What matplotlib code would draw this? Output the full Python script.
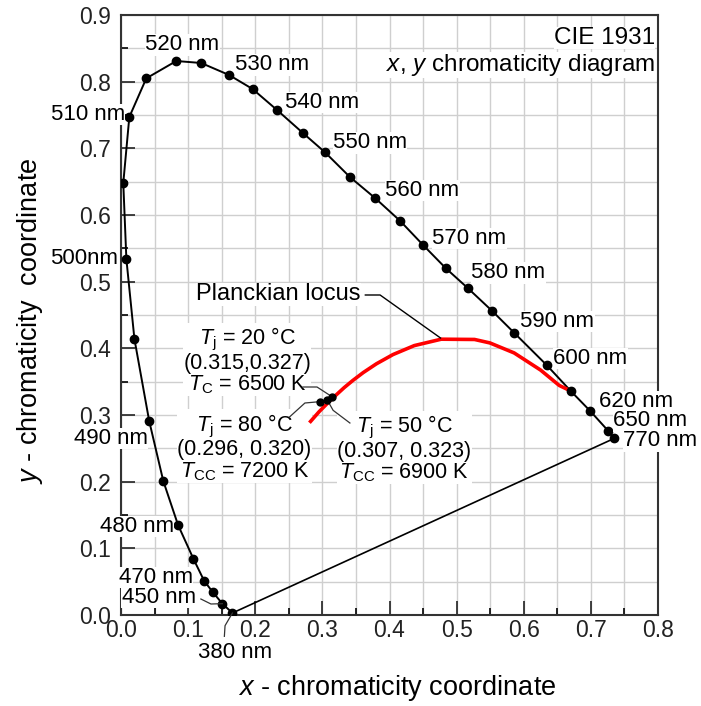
import matplotlib.pyplot as plt
import numpy as np
from matplotlib.ticker import MultipleLocator, FormatStrFormatter

plt.rcParams['font.family'] = 'Liberation Sans'
plt.rcParams['mathtext.fontset'] = 'custom'
plt.rcParams['mathtext.rm'] = 'Liberation Sans'
plt.rcParams['mathtext.it'] = 'Liberation Sans:italic'

# spectral locus, dots
wl = [380, 450, 460, 470, 475, 480, 485, 490, 495, 500, 505, 510, 515, 520,
      525, 530, 535, 540, 545, 550, 555, 560, 565, 570, 575, 580, 585, 590,
      600, 610, 620, 650, 770]
loc_x = [0.166, 0.151, 0.137, 0.124, 0.108, 0.085, 0.063, 0.042, 0.020, 0.008,
         0.0034, 0.0124, 0.0377, 0.0824, 0.1195, 0.161, 0.196, 0.233, 0.271,
         0.304, 0.341, 0.379, 0.416, 0.450, 0.484, 0.517, 0.553, 0.586,
         0.634, 0.670, 0.699, 0.726, 0.735]
loc_y = [0.003, 0.017, 0.034, 0.051, 0.084, 0.135, 0.201, 0.291, 0.414, 0.534,
         0.648, 0.747, 0.805, 0.831, 0.828, 0.810, 0.789, 0.757, 0.723,
         0.694, 0.657, 0.625, 0.591, 0.555, 0.520, 0.490, 0.456, 0.423,
         0.375, 0.336, 0.306, 0.276, 0.265]

# Planckian locus
pl_x = [0.2807, 0.2950, 0.3135, 0.3324, 0.3451, 0.3608, 0.3805, 0.4053, 0.4369,
        0.4770, 0.5267, 0.5496, 0.5857, 0.6251, 0.6528, 0.668]
pl_y = [0.2884, 0.3048, 0.3236, 0.3410, 0.3516, 0.3636, 0.3768, 0.3907, 0.4041,
        0.4137, 0.4133, 0.4081, 0.3931, 0.3674, 0.3444, 0.337]

# LED measurements
led_x = [0.315, 0.307, 0.296]
led_y = [0.327, 0.323, 0.320]
led_tj = [20, 50, 80]
led_tc = [6500, 6900, 7200]

x_ticks = [0.0, 0.1, 0.2, 0.3, 0.4, 0.5, 0.6, 0.7, 0.8]
y_ticks = [0.0, 0.1, 0.2, 0.3, 0.4, 0.5, 0.6, 0.7, 0.8, 0.9]

# wavelength label placement (text, x, y, ha)
wl_labels = [
    ('520 nm', 0.0913, 0.855, 'center'),
    ('530 nm', 0.170, 0.825, 'left'),
    ('540 nm', 0.245, 0.769, 'left'),
    ('550 nm', 0.316, 0.708, 'left'),
    ('560 nm', 0.394, 0.637, 'left'),
    ('570 nm', 0.464, 0.565, 'left'),
    ('580 nm', 0.522, 0.513, 'left'),
    ('590 nm', 0.595, 0.440, 'left'),
    ('600 nm', 0.644, 0.385, 'left'),
    ('620 nm', 0.712, 0.320, 'left'),
    ('650 nm', 0.733, 0.291, 'left'),
    ('770 nm', 0.748, 0.261, 'left'),
    ('510 nm', -0.105, 0.751, 'left'),
    ('500nm', -0.105, 0.535, 'left'),
    ('490 nm', -0.070, 0.265, 'left'),
    ('480 nm', -0.032, 0.1325, 'left'),
    ('470 nm', -0.003, 0.0565, 'left'),
    ('450 nm', 0.001, 0.0265, 'left'),
]

fig = plt.figure(figsize=(7.01, 7.06), dpi=100)
ax = fig.add_axes([121 / 701, 1 - 615 / 706, 537 / 701, 600 / 706])

ax.set_xlim(0, 0.8)
ax.set_ylim(0, 0.9)
ax.set_xticks(x_ticks)
ax.set_yticks(y_ticks)
ax.xaxis.set_major_formatter(FormatStrFormatter('%.1f'))
ax.yaxis.set_major_formatter(FormatStrFormatter('%.1f'))
ax.xaxis.set_minor_locator(MultipleLocator(0.05))
ax.yaxis.set_minor_locator(MultipleLocator(0.05))
ax.grid(which='both', color='#cfcfcf', linewidth=1.0, zorder=0)
ax.set_axisbelow(True)
ax.tick_params(which='major', direction='in', length=10, width=1.2, labelsize=16.5,
               colors='#222222', top=False, right=False)
ax.tick_params(which='minor', direction='in', length=5, width=1.2,
               top=False, right=False)
ax.tick_params(axis='y', pad=7)
ax.tick_params(axis='x', pad=3)
for s in ax.spines.values():
    s.set_color('#333333')
    s.set_linewidth(1.5)

# spectral locus and line of purples
ax.plot(loc_x, loc_y, color='black', lw=1.4, zorder=3)
ax.plot([loc_x[0], loc_x[-1]], [loc_y[0], loc_y[-1]], color='black', lw=1.2, zorder=3)
ax.plot(loc_x, loc_y, 'o', color='black', ms=6, zorder=4)

# Planckian locus
ax.plot(pl_x, pl_y, color='red', lw=2.6, zorder=3, solid_capstyle='butt')

# LED points
ax.plot(led_x, led_y, 'o', color='black', ms=5, zorder=5)

box = dict(facecolor='white', edgecolor='none', pad=0.2)
for txt, tx, ty, ha in wl_labels:
    ax.text(tx, ty, txt, ha=ha, va='center', fontsize=16, bbox=box,
            zorder=6, clip_on=False)
ax.text(0.170, -0.056, '380 nm', ha='center', va='center', fontsize=16,
        clip_on=False)

# leaders
lead = dict(color='#333333', lw=0.9, zorder=4, clip_on=False)
ax.plot([0.119, 0.134, loc_x[1]], [0.024, 0.0165, loc_y[1]], **lead)
ax.plot([loc_x[0], 0.155, 0.154], [loc_y[0], -0.016, -0.032], **lead)
ax.plot([0.364, 0.386, 0.476], [0.480, 0.480, 0.4155], color='black', lw=1.0, zorder=4)
ax.plot([0.271, 0.292, led_x[0]], [0.342, 0.342, led_y[0]], **lead)
ax.plot([0.251, 0.274, led_x[2]], [0.297, 0.318, led_y[2]], **lead)
ax.plot([0.341, 0.316, led_x[1]], [0.288, 0.307, led_y[1]], **lead)

ax.text(0.357, 0.481, 'Planckian locus', ha='right', va='center', fontsize=17,
        bbox=box, zorder=6)

# LED annotations
led_blocks = [
    (0.188, 0.381, r'$T_\mathrm{j}$ = %d °C' % led_tj[0],
     '(%.3f,%.3f)' % (led_x[0], led_y[0]), r'$T_\mathrm{C}$ = %d K' % led_tc[0]),
    (0.422, 0.249, r'$T_\mathrm{j}$ = %d °C' % led_tj[1],
     '(%.3f, %.3f)' % (led_x[1], led_y[1]), r'$T_\mathrm{CC}$ = %d K' % led_tc[1]),
    (0.184, 0.251, r'$T_\mathrm{j}$ = %d °C' % led_tj[2],
     '(%.3f, %.3f)' % (led_x[2], led_y[2]), r'$T_\mathrm{CC}$ = %d K' % led_tc[2]),
]
for cx, cy, l1, l2, l3 in led_blocks:
    ax.text(cx, cy, '\n'.join([l1, l2, l3]), ha='center', va='center',
            multialignment='center', linespacing=0.98, fontsize=15.5,
            bbox=box, zorder=2.5)

ax.text(0.7956, 0.8655, 'CIE 1931', ha='right', va='center', fontsize=17.5,
        bbox=box, zorder=6)
ax.text(0.7956, 0.825, r'$x$, $y$ chromaticity diagram', ha='right', va='center',
        fontsize=17.5, bbox=box, zorder=6)

ax.set_xlabel(r'$x$ - chromaticity coordinate', fontsize=19.5, va='center')
ax.set_ylabel(r'$y$ - chromaticity  coordinate', fontsize=19.5, va='center')
ax.xaxis.set_label_coords(0.514, -0.122)
ax.yaxis.set_label_coords(-0.169, 0.49)

fig.savefig('out.png', dpi=100, facecolor='white')
